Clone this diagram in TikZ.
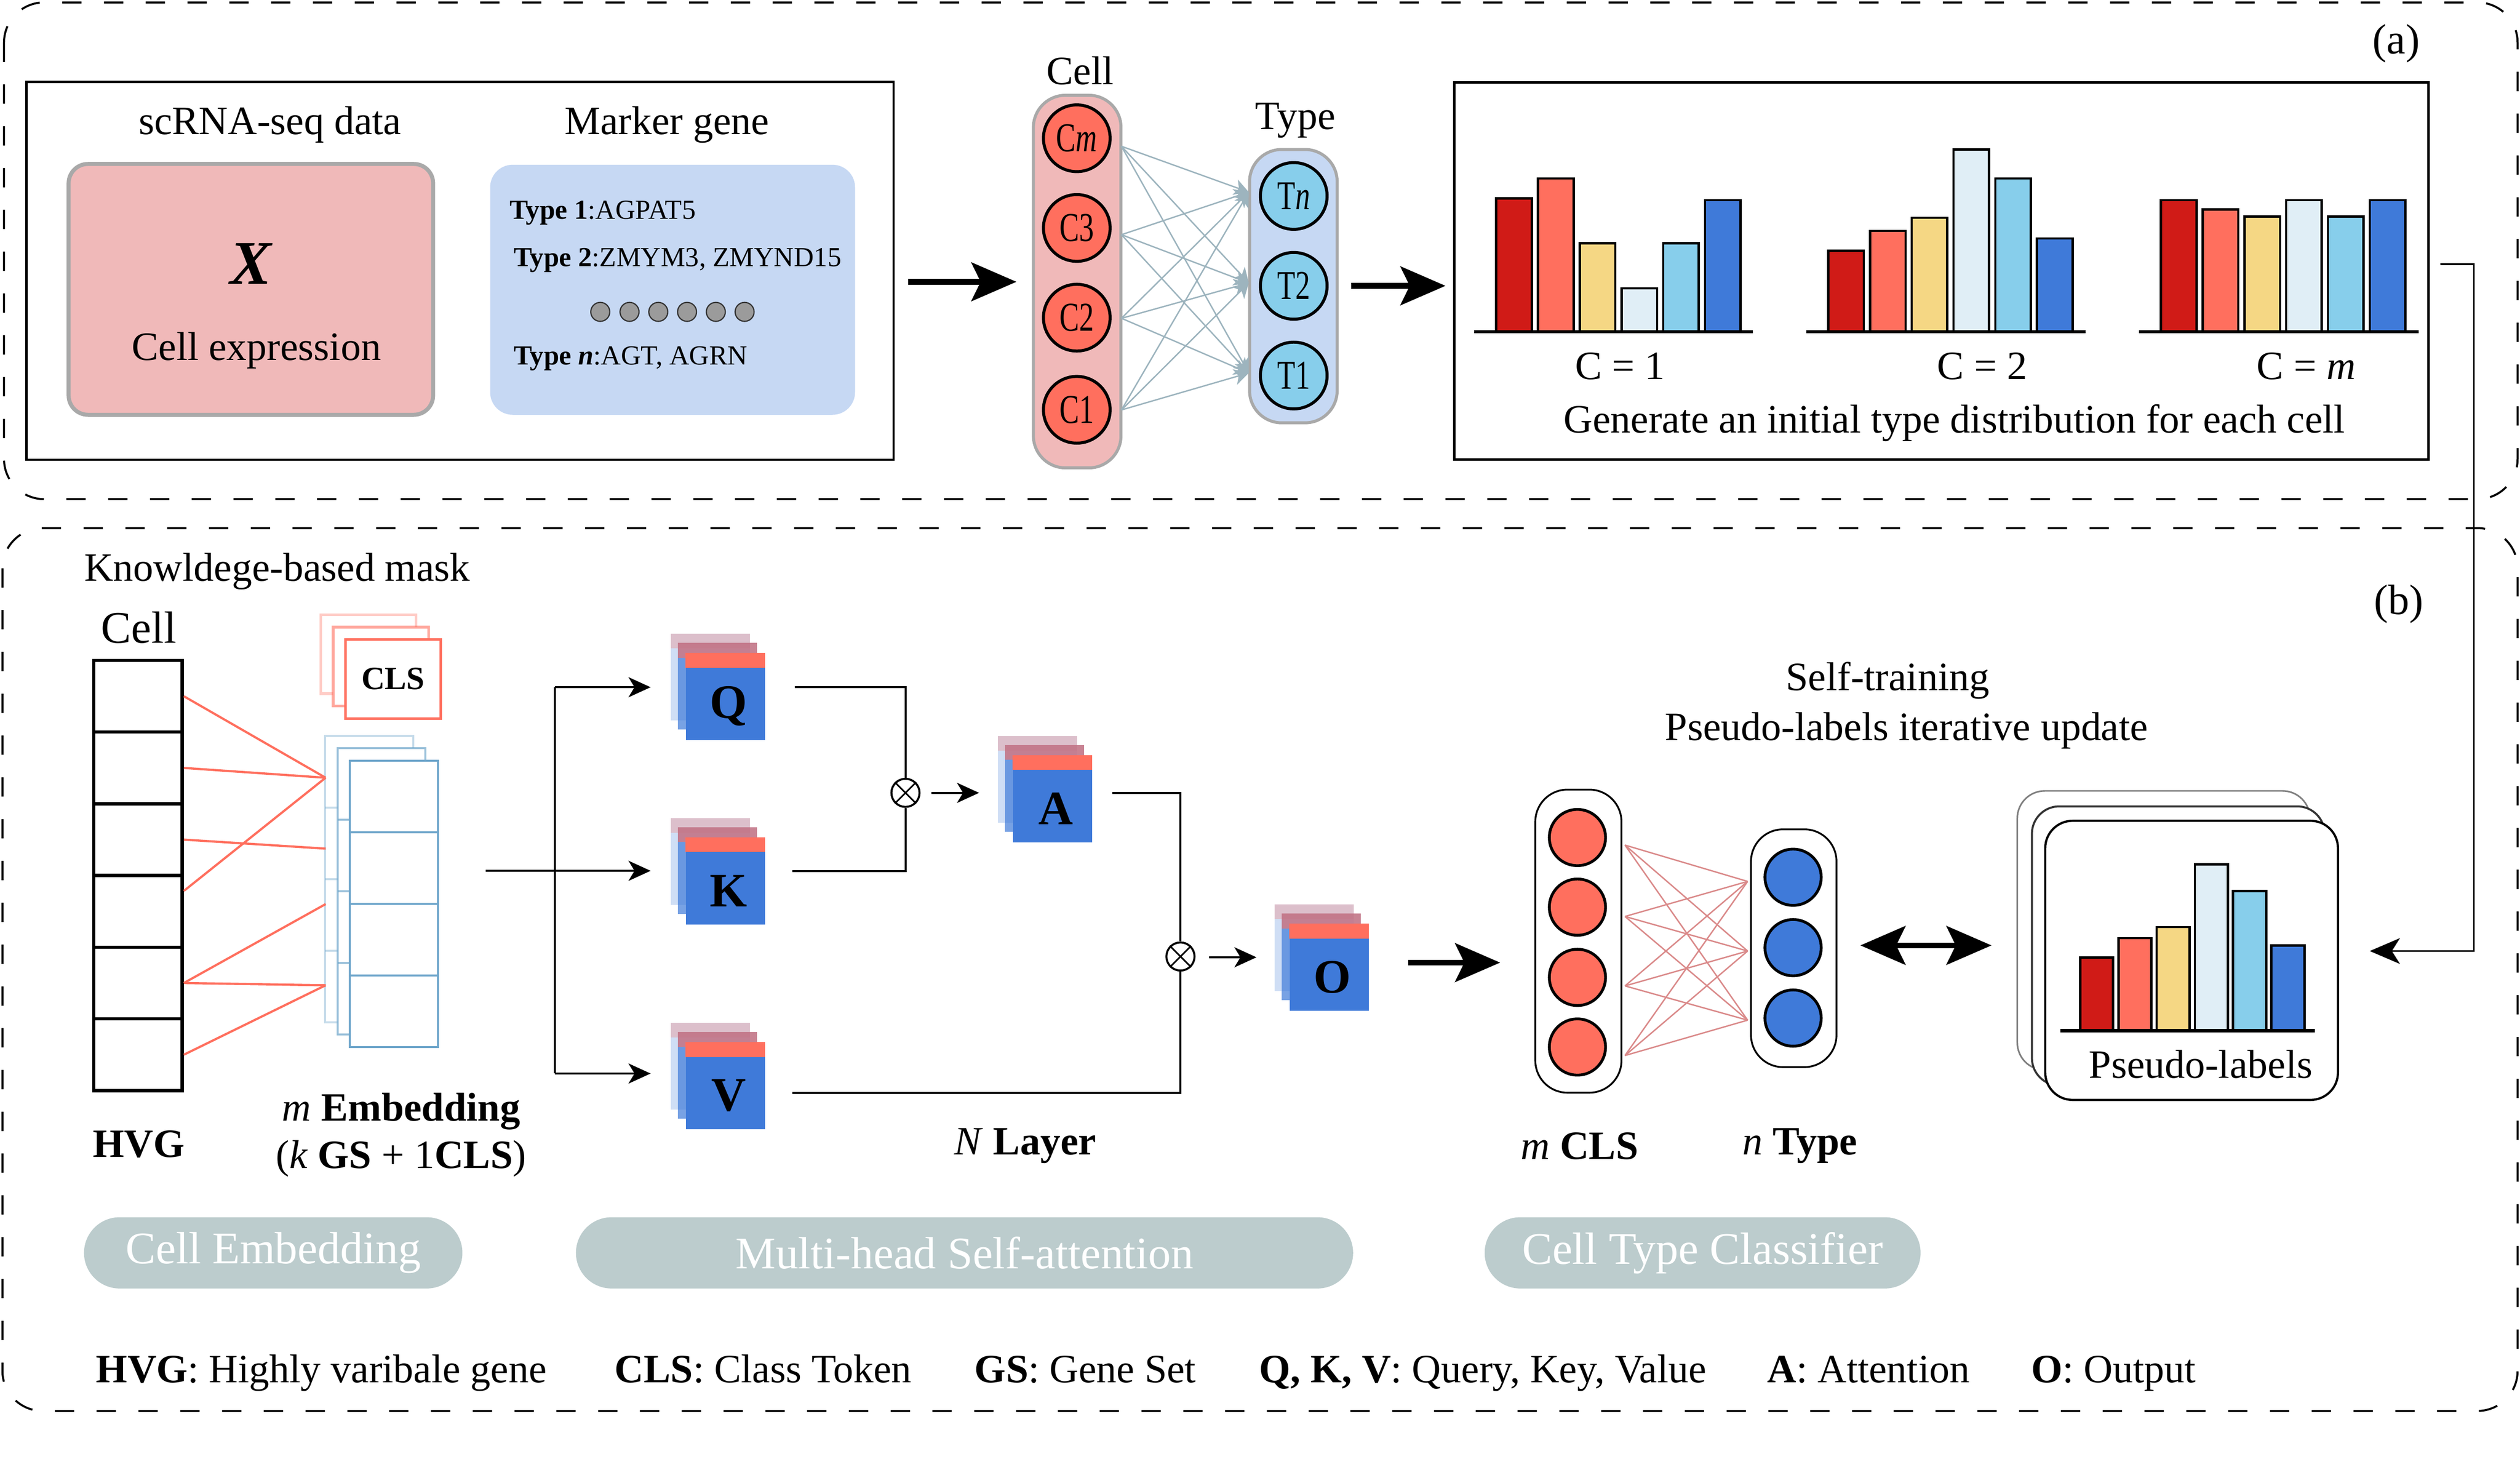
\documentclass[tikz,border=0pt]{standalone}
\usepackage{fontspec}
\setmainfont{Liberation Serif}
\usepackage{graphicx}
\usetikzlibrary{arrows.meta,calc}
\definecolor{pinkbox}{HTML}{F0B9B9}
\definecolor{bluebox}{HTML}{C6D8F3}
\definecolor{boxgray}{HTML}{A9A9A9}
\definecolor{tomatoc}{HTML}{FF6F5E}
\definecolor{skyc}{HTML}{87CEEB}
\definecolor{royal}{HTML}{3F7AD9}
\definecolor{hc1}{HTML}{D01B17}
\definecolor{hc2}{HTML}{FF6F5E}
\definecolor{hc3}{HTML}{F5D784}
\definecolor{hc4}{HTML}{E0EEF6}
\definecolor{hc5}{HTML}{87CEEB}
\definecolor{hc6}{HTML}{3F7AD9}
\definecolor{pillgray}{HTML}{BCCCCD}
\definecolor{embblue}{HTML}{6FA6CB}
\definecolor{grayarrow}{HTML}{9DB4BE}
\definecolor{pinkline}{HTML}{DA8A8A}
\definecolor{dotgray}{HTML}{9B9B9B}
\newcommand\fsA{\fontsize{28.5}{34}\selectfont}
\newcommand\fsG{\fontsize{19.5}{24}\selectfont}
\newcommand\fsP{\fontsize{32}{38}\selectfont}
\newcommand\fsC{\fontsize{29}{34}\selectfont}
\newcommand\fsQ{\fontsize{34}{40}\selectfont}
\newcommand\fsX{\fontsize{44}{50}\selectfont}
\newcommand\fsL{\fontsize{30}{36}\selectfont}
\newcommand\fsCLS{\fontsize{23}{28}\selectfont}
\newcommand\clab[1]{\scalebox{0.72}[1]{\fsC #1}}
\newcommand\qkvstack[4]{%
  \fill[royal, opacity=0.25] ({#2-24.6-9.4},{#3-27-12.2}) rectangle ({#2+24.6-9.4},{#3+27-12.2});
  \fill[tomatoc, opacity=0.28] ({#2-24.6-9.4},{#3-27-12.2}) rectangle ({#2+24.6-9.4},{#3-27-12.2+9.2});
  \fill[royal, opacity=0.7] ({#2-24.6-4.9},{#3-27-6.5}) rectangle ({#2+24.6-4.9},{#3+27-6.5});
  \fill[tomatoc, opacity=0.6] ({#2-24.6-4.9},{#3-27-6.5}) rectangle ({#2+24.6-4.9},{#3-27-6.5+9.2});
  \node[qbox] (#1) at (#2,#3) {};
  \fill[tomatoc] (#1.north west) rectangle ($(#1.north east)+(0,9.2)$);
  \node[qlet] (#1l) at ($(#1.center)+(2,6)$) {#4};
}
\begin{document}
\begin{tikzpicture}[x=0.04cm,y=-0.04cm,
  txt/.style={font=\fsA, inner sep=0},
  gene/.style={font=\fsG, inner sep=0},
  lbl/.style={font=\fsL, inner sep=0},
  frame/.style={draw, line width=0.05cm, dash pattern=on 0.48cm off 0.56cm, rounded corners=1cm},
  plainbox/.style={draw, line width=0.06cm, inner sep=0},
  col/.style={draw=boxgray, line width=0.075cm, rounded corners=0.8cm, inner sep=0},
  cnode/.style={circle, draw, line width=0.075cm, minimum size=1.66cm, inner sep=0},
  bnode/.style={circle, draw, line width=0.07cm, minimum size=1.4cm, inner sep=0},
  clscol/.style={draw, line width=0.045cm, rounded corners=0.8cm, inner sep=0},
  grayarr/.style={draw=grayarrow, line width=0.035cm, -{Stealth[length=0.36cm,width=0.4cm,inset=0.1cm]}},
  bigarr/.style={line width=0.14cm, -{Stealth[length=1.12cm,width=0.96cm,inset=0.23cm]}},
  bigdbl/.style={line width=0.14cm, {Stealth[length=1.12cm,width=0.96cm,inset=0.23cm]}-{Stealth[length=1.12cm,width=0.96cm,inset=0.23cm]}},
  midarr/.style={line width=0.05cm, -{Stealth[length=0.55cm,width=0.5cm,inset=0.15cm]}},
  thinarr/.style={line width=0.045cm, -{Stealth[length=0.75cm,width=0.64cm,inset=0.2cm]}},
  ln/.style={line width=0.05cm},
  bar/.style={draw=black, line width=0.06cm},
  base/.style={line width=0.08cm},
  redline/.style={draw=tomatoc, line width=0.055cm},
  pinkln/.style={draw=pinkline, line width=0.035cm},
  hvcell/.style={draw, line width=0.08cm, minimum width=2.2cm, minimum height=1.784cm, inner sep=0},
  embnode/.style={draw=embblue, line width=0.05cm, fill=white, minimum width=2.188cm, minimum height=1.78cm, inner sep=0},
  clsnode/.style={draw=tomatoc, line width=0.065cm, fill=white, minimum width=2.372cm, minimum height=1.964cm, font=\fsCLS\bfseries, inner sep=0},
  qbox/.style={fill=royal, minimum width=1.968cm, minimum height=2.16cm, inner sep=0},
  qlet/.style={font=\fsQ\bfseries, inner sep=0},
  otimes/.style={circle, draw, line width=0.05cm, minimum size=0.7cm, inner sep=0},
  pill/.style={fill=pillgray, rounded corners=0.886cm, minimum height=1.772cm, text=white, font=\fsP, inner sep=0}
]
\useasboundingbox (0,0) rectangle (1568,912.3);

% ---------------- frames
\draw[frame] (2.5,1.5) rectangle (1566.5,310.5);
\draw[frame] (1.5,328.5) rectangle (1566.5,877.7);

% ---------------- part (a)
\node[plainbox, minimum width=21.58cm, minimum height=9.4cm] (boxA) at (286.2,168.5) {};
\node[draw=boxgray, fill=pinkbox, line width=0.1cm, rounded corners=0.48cm, minimum width=9.07cm, minimum height=6.24cm] (pinkX) at (156.1,180) {};
\node[fill=bluebox, rounded corners=0.56cm, minimum width=9.08cm, minimum height=6.22cm] (blueM) at (418.5,180.25) {};
\node[txt] (tscrna) at (168,77.6) {scRNA-seq data};
\node[txt] (tmarker) at (415,77.6) {Marker gene};
\node[font=\fsX\bfseries\itshape, inner sep=0] (tX) at (156,164) {X};
\node[txt] (tcellexp) at (159.5,218) {Cell expression};
\node[gene, anchor=west] (g1) at (317,132.5) {\textbf{Type 1}:AGPAT5};
\node[gene, anchor=west] (g2) at (319.5,162) {\textbf{Type 2}:ZMYM3, ZMYND15};
\node[gene, anchor=west] (gn) at (319.5,223) {\textbf{Type \textit{n}}:AGT, AGRN};
\foreach \xx in {373.5,391.7,409.6,427.5,445.4,463.3}
  \filldraw[fill=dotgray, draw=black!80, line width=0.03cm] (\xx,194) circle (0.236cm);

\node[col, fill=pinkbox, minimum width=2.18cm, minimum height=9.27cm] (cellcol) at (670.25,175.15) {};
\node[cnode, fill=tomatoc] (cm) at (670,86) {\clab{C\textit{m}}};
\node[cnode, fill=tomatoc] (c3) at (670,141.8) {\clab{C3}};
\node[cnode, fill=tomatoc] (c2) at (670,197.6) {\clab{C2}};
\node[cnode, fill=tomatoc] (c1) at (670,254.9) {\clab{C1}};
\node[col, fill=bluebox, minimum width=2.18cm, minimum height=6.8cm] (typecol) at (804.75,178) {};
\node[cnode, fill=skyc] (tn) at (805,121.9) {\clab{T\textit{n}}};
\node[cnode, fill=skyc] (t2) at (805,177.8) {\clab{T2}};
\node[cnode, fill=skyc] (t1) at (805,233.6) {\clab{T1}};
\node[txt] (lcell) at (672,44) {Cell};
\node[txt] (ltype) at (806,75) {Type};

\coordinate (co1) at (697.8,91);
\coordinate (co2) at (697.8,146);
\coordinate (co3) at (697.8,198);
\coordinate (co4) at (697.8,255);
\coordinate (ti1) at (777,119.5);
\coordinate (ti2) at (777,176);
\coordinate (ti3) at (777,232);
\foreach \s in {1,...,4} \foreach \tg in {1,2,3} \draw[grayarr] (co\s) -- (ti\tg);

\draw[bigarr] ($(cellcol.west)+(-77,0.15)$) -- ($(cellcol.west)+(-9.6,0.15)$);
\draw[bigarr] ($(typecol.east)+(7.7,-0.2)$) -- ($(typecol.east)+(66.5,-0.2)$);

\node[plainbox, minimum width=24.24cm, minimum height=9.39cm] (histbox) at (1208,168.55) {};
\foreach \tp [count=\i] in {123.4,111,151.4,179.4,151.4,124.5}
  \filldraw[bar, fill=hc\i] ({930.9+26*(\i-1)},206.4) rectangle ({930.9+26*(\i-1)+22.2},\tp);
\foreach \tp [count=\i] in {156,143.6,135.5,92.9,111,148.3}
  \filldraw[bar, fill=hc\i] ({1137.5+26*(\i-1)},206.4) rectangle ({1137.5+26*(\i-1)+22.2},\tp);
\foreach \tp [count=\i] in {124.5,130.3,134.8,124.5,134.8,124.5}
  \filldraw[bar, fill=hc\i] ({1344.5+26*(\i-1)},206.4) rectangle ({1344.5+26*(\i-1)+22.2},\tp);
\draw[base] (917.4,206.4) -- (1090.8,206.4);
\draw[base] (1123.9,206.4) -- (1297.8,206.4);
\draw[base] (1331,206.4) -- (1504.8,206.4);
\node[txt] (lc1) at (1008,227.8) {C = 1};
\node[txt] (lc2) at (1233.4,227.8) {C = 2};
\node[txt] (lcm) at (1435,227.8) {C = \textit{m}};
\node[txt] (lgen) at (1216,263) {Generate an initial type distribution for each cell};
\node[lbl] (la) at (1491,27) {(a)};

% ---------------- part (b)
\node[txt, anchor=west] (kbm) at (52.3,355.3) {Knowldege-based mask};
\node[font=\fsP, inner sep=0] (lcellb) at (86.3,390.3) {Cell};
\foreach \i in {1,...,6} \node[hvcell] (hv\i) at (85.9,{410.8+44.6*(\i-0.5)}) {};
\node[txt, font=\fsA\bfseries] (lhvg) at (86.3,711.6) {HVG};

% embedding stack
\foreach \dx/\op in {-15.4/0.4, -7.7/0.7} {
  \draw[draw=embblue, draw opacity=\op, line width=0.05cm, fill=white] ({217.7+\dx},{473.2+\dx}) rectangle ({272.4+\dx},{651.3+\dx});
  \foreach \dv in {517.7,562.2,606.7}
    \draw[draw=embblue, draw opacity=\op, line width=0.05cm] ({217.7+\dx},{\dv+\dx}) -- ({272.4+\dx},{\dv+\dx});
}
\foreach \i in {1,...,4} \node[embnode] (em\i) at (245.05,{473.2+44.5*(\i-0.5)}) {};

\coordinate (eb1) at (202.6,483.8);
\coordinate (eb2) at (202.6,527.9);
\coordinate (eb3) at (202.6,562.4);
\coordinate (eb4) at (202.6,612.9);
\draw[redline] (hv1.east) -- (eb1);
\draw[redline] (hv2.east) -- (eb1);
\draw[redline] (hv3.east) -- (eb2);
\draw[redline] ($(hv4.east)+(0,-12.7)$) -- (eb1);
\draw[redline] (hv5.east) -- (eb3);
\draw[redline] (hv5.east) -- (eb4);
\draw[redline] (hv6.east) -- (eb4);

% CLS stack
\draw[draw=tomatoc, draw opacity=0.35, line width=0.065cm, fill=white] (199.6,382.4) rectangle (258.9,431.5);
\draw[draw=tomatoc, draw opacity=0.6, line width=0.065cm, fill=white] (207.3,390.1) rectangle (266.6,439.2);
\node[clsnode] (cls) at (244.65,422.35) {CLS};

\node[txt] (lemb) at (249.6,691.2) {\textit{m} \textbf{Embedding}};
\node[txt] (lemb2) at (249.6,720.8) {(\textit{k} \textbf{GS} + 1\textbf{CLS})};

% Q K V A O
\qkvstack{Q}{451.4}{433.4}{Q}
\qkvstack{K}{451.4}{548.1}{K}
\qkvstack{V}{451.4}{675.5}{V}
\qkvstack{A}{654.9}{496.9}{A}
\qkvstack{O}{827.1}{601.8}{O}

% branch
\coordinate (bin) at (302.2,541.7);
\coordinate (bq) at (345.2,427.5);
\coordinate (bv) at (345.2,667.8);
\draw[ln] (bq) -- (bv);
\draw[midarr] (bin) -- ($(K.west)+(-21.8,-6.4)$);
\draw[midarr] (bq) -- ($(Q.west)+(-21.8,-5.9)$);
\draw[midarr] (bv) -- ($(V.west)+(-21.8,-7.7)$);

% otimes
\node[otimes] (ot1) at (563.4,493.2) {};
\draw[line width=0.04cm] (ot1.north west) -- (ot1.south east) (ot1.north east) -- (ot1.south west);
\node[otimes] (ot2) at (734.5,595) {};
\draw[line width=0.04cm] (ot2.north west) -- (ot2.south east) (ot2.north east) -- (ot2.south west);

\coordinate (qo) at (494.4,427.5);
\coordinate (ko) at (493,541.8);
\coordinate (ao) at (692,493.2);
\coordinate (vo) at (493,680);
\draw[ln] (qo) -| (ot1.north);
\draw[ln] (ko) -| (ot1.south);
\draw[ln] (ao) -| (ot2.north);
\draw[ln] (vo) -| (ot2.south);
\draw[midarr] ($(ot1.east)+(6.6,0)$) -- ($(A.west |- ot1.east)+(-20.9,0)$);
\draw[midarr] ($(ot2.east)+(8.4,0.5)$) -- ($(O.west |- ot2.east)+(-20.5,0.5)$);
\node[txt] (nlayer) at (638,712.8) {\textit{N} \textbf{Layer}};

% classifier
\node[clscol, minimum width=2.144cm, minimum height=7.54cm] (mcls) at (982.1,585.45) {};
\foreach \i/\yy in {1/521,2/564.3,3/608,4/651.3} \node[bnode, fill=tomatoc] (mc\i) at (981.5,\yy) {};
\node[clscol, minimum width=2.128cm, minimum height=5.916cm] (ntype) at (1116.1,589.85) {};
\foreach \i/\yy in {1/545.7,2/589.5,3/633.3} \node[bnode, fill=royal] (nt\i) at (1115.7,\yy) {};
\foreach \i/\yy in {1/525.7,2/570.1,3/613.3,4/656.6} \coordinate (ps\i) at (1011.1,\yy);
\foreach \i/\yy in {1/548.3,2/591.6,3/634.6} \coordinate (pt\i) at (1087.4,\yy);
\foreach \s in {1,...,4} \foreach \tg in {1,2,3} \draw[pinkln] (ps\s) -- (pt\tg);
\draw[bigarr] ($(O.east)+(24.3,-3)$) -- ($(mcls.west |- O.east)+(-21.3,-3)$);
\node[txt] (lmcls) at (982.8,712.9) {\textit{m} \textbf{CLS}};
\node[txt] (lntype) at (1120,712.9) {\textit{n} \textbf{Type}};
\node[txt] (st1) at (1174.5,423.5) {Self-training};
\node[txt] (st2) at (1186.3,454.6) {Pseudo-labels iterative update};
\draw[bigdbl] ($(ntype.east)+(14.3,-1.75)$) -- ($(ntype.east)+(95.9,-1.75)$);

% pseudo labels stack
\draw[draw=black!50, line width=0.04cm, fill=white, rounded corners=0.68cm] (1255.2,492) rectangle (1437.3,665.6);
\draw[draw=black!80, line width=0.05cm, fill=white, rounded corners=0.68cm] (1264.3,501.6) rectangle (1446.4,675.2);
\node[draw, line width=0.055cm, fill=white, rounded corners=0.68cm, minimum width=7.284cm, minimum height=6.944cm, inner sep=0] (pl) at (1363.65,597.4) {};
\foreach \tp [count=\i] in {595.6,583.6,576.7,537.7,554.2,588.1}
  \filldraw[bar, fill=hc\i] ({1294.3+23.8*(\i-1)},641.2) rectangle ({1294.3+23.8*(\i-1)+20.5},\tp);
\draw[base] (1282.1,641.2) -- (1440.3,641.2);
\node[txt] (lpseudo) at (1369.3,661.9) {Pseudo-labels};

% right connector
\coordinate (rcA) at (1539.3,164.3);
\draw[thinarr] ($(histbox.east)+(6.5,-4.25)$) -- (rcA) |- ($(pl.east)+(19.1,-5.8)$);
\node[lbl] (lb) at (1492.6,375.8) {(b)};

% pills
\node[pill, minimum width=9.416cm] (p1) at (170,779.35) {Cell Embedding};
\node[pill, minimum width=19.34cm] (p2) at (600.15,779.35) {Multi-head Self-attention};
\node[pill, minimum width=10.848cm] (p3) at (1059.4,779.35) {Cell Type Classifier};

% legend
\node[txt, anchor=base west] (lg1) at (59.7,860) {\textbf{HVG}: Highly varibale gene};
\node[txt, anchor=base west] (lg2) at (382.3,860) {\textbf{CLS}: Class Token};
\node[txt, anchor=base west] (lg3) at (606.3,860) {\textbf{GS}: Gene Set};
\node[txt, anchor=base west] (lg4) at (783.2,860) {\textbf{Q, K, V}: Query, Key, Value};
\node[txt, anchor=base west] (lg5) at (1099.5,860) {\textbf{A}: Attention};
\node[txt, anchor=base west] (lg6) at (1263.8,860) {\textbf{O}: Output};
\end{tikzpicture}
\end{document}
